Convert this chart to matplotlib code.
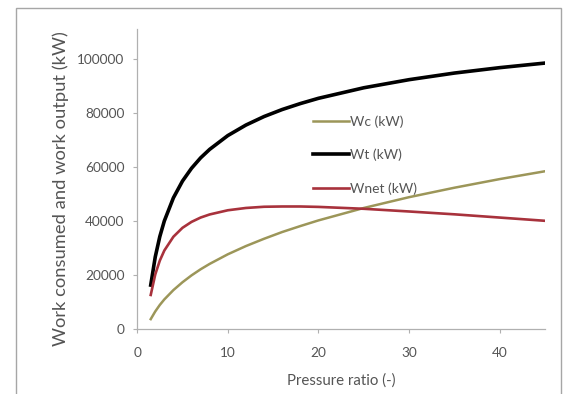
import numpy as np
from matplotlib import pyplot as plt
from matplotlib.patches import Rectangle

# values
pressure_ratio = [1.5, 2, 2.5, 3, 4, 5, 6, 7, 8, 10, 12, 14, 16, 18, 20,
                  25, 30, 35, 40, 45]
w_c = [3650, 6500, 8900, 10950, 14400, 17300, 19850, 22100, 24100, 27650,
       30700, 33400, 35900, 38100, 40200, 44800, 48800, 52300, 55500, 58400]
w_t = [16250, 26700, 34200, 40000, 48550, 54750, 59500, 63350, 66500, 71600,
       75500, 78650, 81250, 83450, 85400, 89300, 92300, 94750, 96750, 98450]
w_net = [12600, 20200, 25300, 29050, 34150, 37450, 39650, 41250, 42400,
         43950, 44800, 45250, 45350, 45350, 45200, 44500, 43500, 42450,
         41250, 40050]

x_ticks = [0, 10, 20, 30, 40]
y_ticks = [0, 20000, 40000, 60000, 80000, 100000]

plt.rcParams['font.family'] = ['Lato', 'DejaVu Sans']

fig = plt.figure(figsize=(5.69, 3.94), dpi=100)
ax = fig.add_axes([0.241, 0.165, 0.717, 0.761])

# outer chart border (Excel chart area)
fig.patches.append(Rectangle((16 / 569, -0.02), 545 / 569, 1 - 8 / 394 + 0.02,
                             transform=fig.transFigure, fill=False,
                             edgecolor='#a6a6a6', linewidth=1.0))

ax.plot(pressure_ratio, w_c, color='#9c9659', linewidth=1.8, label='Wc (kW)')
ax.plot(pressure_ratio, w_t, color='black', linewidth=2.6, label='Wt (kW)')
ax.plot(pressure_ratio, w_net, color='#a8323c', linewidth=1.9,
        label='Wnet (kW)')

ax.set_xlim(0, 45)
ax.set_ylim(0, 111000)
ax.set_xticks(x_ticks)
ax.set_yticks(y_ticks)

for s in ['top', 'right']:
    ax.spines[s].set_visible(False)
for s in ['left', 'bottom']:
    ax.spines[s].set_color('#b0b0b0')
    ax.spines[s].set_linewidth(0.9)
ax.tick_params(colors='#b0b0b0', labelcolor='#555555', labelsize=9.8,
               length=3, width=0.8)
ax.tick_params(axis='x', pad=10)
ax.tick_params(axis='y', pad=6)

ax.set_xlabel('Pressure ratio (-)', fontsize=10.8, color='#555555',
              labelpad=10)
ax.set_ylabel('Work consumed and work output (kW)', fontsize=13.2,
              color='#555555')
ax.yaxis.set_label_coords(-0.167, 0.467)

ax.legend(loc='center left', bbox_to_anchor=(0.40, 0.58), frameon=False,
          fontsize=10, handlelength=2.6, handletextpad=0.1,
          labelspacing=1.5, labelcolor='#555555')

plt.savefig('out.png', dpi=100)
